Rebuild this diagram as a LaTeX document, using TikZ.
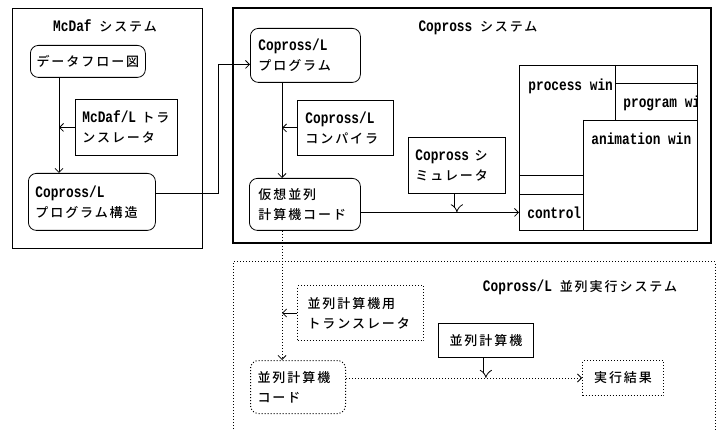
\documentclass[tikz,border=0pt]{standalone}
\usepackage{fontspec}
\setmainfont{Liberation Mono}[FakeStretch=0.8]
\newfontfamily\jpfont{Noto Sans CJK JP}[UprightFont={* Medium},LetterSpace=15]
\usetikzlibrary{arrows.meta,calc}
\newcommand{\J}[1]{{\jpfont\mdseries\fontsize{13}{20}\selectfont #1}}
\begin{document}
\begin{tikzpicture}[x=1pt,y=-1pt,
  font=\fontsize{16}{20}\selectfont\bfseries,
  line width=0.8pt,
  box/.style={draw, anchor=north west, align=left, inner ysep=2pt},
  rbox/.style={box, rounded corners=8pt},
  dbox/.style={box, dotted, line width=1pt},
  drbox/.style={dbox, rounded corners=8pt},
  arr/.style={-{Straight Barb[length=4pt,width=8pt]}},
  darr/.style={dotted, line width=1pt, -{Straight Barb[length=4pt,width=8pt,line width=0.8pt,sep=0pt]}},
  dbl/.style={double, double distance=3.5pt, line width=0.8pt, -{Implies[length=6pt,width=12pt]}},
  lbl/.style={inner sep=0pt}]
\useasboundingbox (0,0) rectangle (717,430);

% ---------- McDaf system
\draw (12,8) rectangle (202,248);
\node[lbl] (tmc) at (105,26) {McDaf \J{システム}};
\node[rbox, minimum height=32pt, text width=107pt, inner xsep=4pt, align=center] (dfd) at (30,45) {\J{データフロー図}};
\node[box, minimum height=56pt, text width=88pt, inner xsep=7pt] (mtrans) at (75,99) {McDaf/L \J{トラ}\\\J{ンスレータ}};
\node[rbox, minimum height=57pt, text width=113pt, inner xsep=7pt] (cps) at (28,173) {Copross/L\\\J{プログラム構造}};
\coordinate (a1) at ([xshift=29pt]dfd.south west);
\draw[arr] (a1) -- (a1 |- cps.north);
\draw[arr] (mtrans.west) -- (mtrans.west -| a1);

% ---------- Copross system
\draw[line width=1.8pt] (233,8) rectangle (711,243);
\node[lbl] (tcp) at (478,28) {Copross \J{システム}};
\node[rbox, minimum height=54pt, text width=94pt, inner xsep=8pt] (cp) at (250,28) {Copross/L\\\J{プログラム}};
\node[box, minimum height=55pt, text width=80pt, inner xsep=8pt] (comp) at (297,100) {Copross/L\\\J{コンパイラ}};
\node[rbox, minimum height=52pt, text width=93pt, inner xsep=9pt] (vm) at (249,178) {\J{仮想並列}\\\J{計算機コード}};
\node[box, minimum height=56pt, text width=83pt, inner xsep=7pt] (sim) at (408,137) {Copross \J{シ}\\\J{ミュレータ}};

% windows
\draw (519,65) rectangle (697,230);
\draw (615,65) -- (615,120);
\draw (615,83) -- (697,83);
\draw (583,120) -- (697,120);
\draw (583,120) -- (583,230);
\draw (519,175) -- (583,175);
\node[box, minimum width=64pt, minimum height=36pt, text width=48pt, inner xsep=8pt, inner ysep=0pt] (ctrl) at (519,194) {control};
\begin{scope}
  \clip (519,65) rectangle (615,120);
  \node[lbl, anchor=west] (pwin) at (528,86) {process win};
\end{scope}
\begin{scope}
  \clip (615,83) rectangle (697,120);
  \node[lbl, anchor=west] (prwin) at (623,103) {program win};
\end{scope}
\begin{scope}
  \clip (583,120) rectangle (697,230);
  \node[lbl, anchor=west] (awin) at (591,139) {animation win};
\end{scope}

\coordinate (a2) at ([xshift=32pt]cp.south west);
\draw[arr] (a2) -- (a2 |- vm.north);
\draw[arr] (comp.west) -- (comp.west -| a2);
\draw[arr] ([yshift=8pt]cps.east) -- ++(63,0) |- ([yshift=-9pt]cp.west);
\draw[arr] (vm.east |- ctrl.west) -- (ctrl.west);
\draw[dbl] (sim.south) -- (sim.south |- ctrl.west);

% ---------- Copross/L parallel execution system
\draw[dotted, line width=1pt] (233,432) -- (233,262) -- (715,262) -- (715,432);
\node[lbl] (tpe) at (580,287) {Copross/L \J{並列実行システム}};
\node[dbox, minimum height=55pt, text width=106pt, inner xsep=10pt] (ptrans) at (297,285) {\J{並列計算機用}\\\J{トランスレータ}};
\node[box, minimum height=34pt, text width=87pt, inner xsep=4pt, align=center] (pc) at (438,323) {\J{並列計算機}};
\node[drbox, minimum height=53pt, text width=81pt, inner xsep=7pt] (pcode) at (250,360) {\J{並列計算機}\\\J{コード}};
\node[dbox, minimum height=35pt, text width=73pt, inner xsep=4pt, align=center] (res) at (582,360) {\J{実行結果}};

\coordinate (a3) at ([xshift=33pt]vm.south west);
\draw[darr] (a3) -- (a3 |- pcode.north);
\draw[arr] (ptrans.west) -- (ptrans.west -| a3);
\draw[darr] (res.west -| pcode.east) -- (res.west);
\draw[dbl] (pc.south) -- (pc.south |- res.west);
\end{tikzpicture}
\end{document}
